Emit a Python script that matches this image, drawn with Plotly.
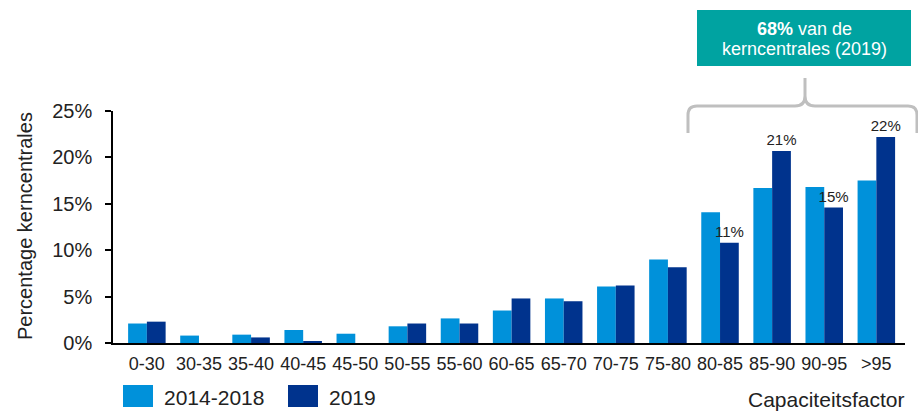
import plotly.graph_objects as go

categories = ["0-30", "30-35", "35-40", "40-45", "45-50", "50-55", "55-60", "60-65",
              "65-70", "70-75", "75-80", "80-85", "85-90", "90-95", ">95"]
series_2014_2018 = [2.1, 0.8, 0.9, 1.4, 1.0, 1.8, 2.65, 3.5, 4.8, 6.1, 9.0, 14.1, 16.7, 16.8, 17.5]
series_2019 = [2.3, 0.0, 0.6, 0.2, 0.0, 2.1, 2.1, 4.8, 4.5, 6.2, 8.15, 10.8, 20.7, 14.6, 22.2]
labelled_2019 = ["80-85", "85-90", "90-95", ">95"]
ytick_vals = [0, 5, 10, 15, 20, 25]
ytick_text = ["0%", "5%", "10%", "15%", "20%", "25%"]

LIGHT = "#0091DA"
DARK = "#00338D"
TEAL = "#00A3A1"
FONT = "Liberation Sans, Arial, sans-serif"

W, H = 918, 411
ML, MR, MT, MB = 113, 13, 111, 68
PW, PH = W - ML - MR, H - MT - MB


def px(x):
    return (x - ML) / PW


def py(y):
    return (H - MB - y) / PH


labels_2019 = [f"{round(v)}%" if c in labelled_2019 else "" for c, v in zip(categories, series_2019)]

fig = go.Figure()
fig.add_trace(go.Bar(x=categories, y=series_2014_2018, name="2014-2018",
                     marker=dict(color=LIGHT, line=dict(width=0))))
fig.add_trace(go.Bar(x=categories, y=series_2019, name="2019",
                     marker=dict(color=DARK, line=dict(width=0)),
                     text=labels_2019, textposition="outside", cliponaxis=False,
                     constraintext="none",
                     textfont=dict(size=15, color="#222222", family=FONT)))

shapes = []
# legend boxes
shapes.append(dict(type="rect", xref="paper", yref="paper", x0=px(123), x1=px(153),
                   y0=py(407), y1=py(385), fillcolor=LIGHT, line=dict(width=0)))
shapes.append(dict(type="rect", xref="paper", yref="paper", x0=px(288), x1=px(318),
                   y0=py(407), y1=py(385), fillcolor=DARK, line=dict(width=0)))
# callout box
shapes.append(dict(type="rect", xref="paper", yref="paper", x0=px(697), x1=px(911),
                   y0=py(66), y1=py(10), fillcolor=TEAL, line=dict(width=0)))
# brace
pts = [
    ("M", 688, 133), ("L", 688, 115), ("Q", 688, 106, 697, 106), ("L", 795, 106),
    ("Q", 805, 106, 805, 96), ("L", 805, 78), ("M", 805, 96), ("Q", 805, 106, 815, 106),
    ("L", 908, 106), ("Q", 917, 106, 917, 115), ("L", 917, 133),
]
path = ""
for p in pts:
    cmd = p[0]
    coords = p[1:]
    pairs = []
    for i in range(0, len(coords), 2):
        pairs.append(f"{px(coords[i]):.5f},{py(coords[i+1]):.5f}")
    path += cmd + " " + " ".join(pairs) + " "
shapes.append(dict(type="path", xref="paper", yref="paper", path=path.strip(),
                   line=dict(color="#BFBFBF", width=3)))

annotations = [
    dict(text="2014-2018", xref="paper", yref="paper", x=px(162), y=py(397),
         xanchor="left", yanchor="middle", showarrow=False,
         font=dict(size=21, color="#222222", family=FONT)),
    dict(text="2019", xref="paper", yref="paper", x=px(327), y=py(397),
         xanchor="left", yanchor="middle", showarrow=False,
         font=dict(size=21, color="#222222", family=FONT)),
    dict(text="Capaciteitsfactor", xref="paper", yref="paper", x=px(906), y=py(399),
         xanchor="right", yanchor="middle", showarrow=False,
         font=dict(size=21, color="#222222", family=FONT)),
    dict(text="Percentage kerncentrales", xref="paper", yref="paper", x=px(25), y=py(226),
         xanchor="center", yanchor="middle", showarrow=False, textangle=-90,
         font=dict(size=20, color="#222222", family=FONT)),
    dict(text="<b>68%</b> van de", xref="paper", yref="paper", x=px(804), y=py(29),
         xanchor="center", yanchor="middle", showarrow=False,
         font=dict(size=18, color="white", family=FONT)),
    dict(text="kerncentrales (2019)", xref="paper", yref="paper", x=px(804), y=py(49),
         xanchor="center", yanchor="middle", showarrow=False,
         font=dict(size=18, color="white", family=FONT)),
]

fig.update_layout(
    width=W, height=H,
    margin=dict(l=ML, r=MR, t=MT, b=MB, pad=0),
    paper_bgcolor="white", plot_bgcolor="white",
    barmode="group", bargap=0.28, bargroupgap=0,
    showlegend=False,
    font=dict(family=FONT, color="#222222"),
    shapes=shapes, annotations=annotations,
    xaxis=dict(range=[-0.65, 14.55], showgrid=False, showline=True, linecolor="black",
               linewidth=2, ticks="", ticklabelstandoff=3,
               tickfont=dict(size=18, color="#222222"), fixedrange=True),
    yaxis=dict(range=[0, 25], tickmode="array", tickvals=ytick_vals, ticktext=ytick_text,
               showgrid=False, zeroline=False, showline=True, linecolor="black", linewidth=1.5,
               ticks="outside", ticklen=6, tickcolor="black", tickwidth=1.5,
               ticklabelstandoff=9, tickfont=dict(size=20, color="#222222")),
)

fig.write_html("out.html", config={"displayModeBar": False},
               post_script="document.body.style.margin='0';")
